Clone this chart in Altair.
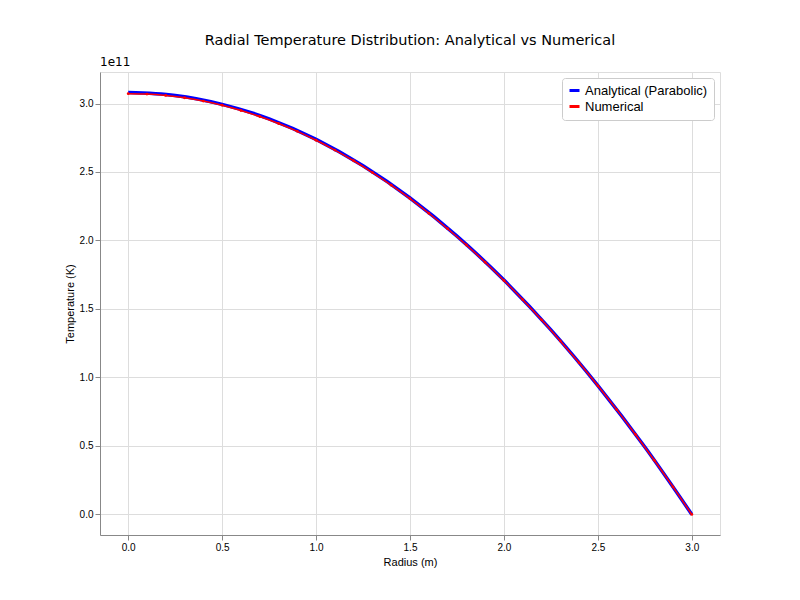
import altair as alt
import pandas as pd

r_ana = [0, 0.25, 0.5, 0.75, 1.0, 1.25, 1.5, 1.75, 2.0, 2.25, 2.5, 2.75, 3.0]
t_ana = [3.080, 3.059, 2.994, 2.888, 2.738, 2.545, 2.310, 2.032, 1.711, 1.348, 0.941, 0.492, 0.0]

r_num = [0, 0.1, 0.2, 0.3, 0.4, 0.5, 0.6, 0.7, 0.8, 0.9, 1.0, 1.1, 1.2, 1.3, 1.4, 1.5,
         1.6, 1.7, 1.8, 1.9, 2.0, 2.1, 2.2, 2.3, 2.4, 2.5, 2.6, 2.7, 2.8, 2.9, 3.0]
t_num = [3.072, 3.069, 3.059, 3.042, 3.018, 2.987, 2.949, 2.905, 2.854, 2.797, 2.732,
         2.660, 2.582, 2.496, 2.404, 2.305, 2.199, 2.086, 1.967, 1.841, 1.708, 1.568,
         1.421, 1.267, 1.107, 0.939, 0.765, 0.584, 0.396, 0.201, 0.0]

df = pd.concat([
    pd.DataFrame({"r": r_ana, "T": t_ana, "series": "Analytical (Parabolic)"}),
    pd.DataFrame({"r": r_num, "T": t_num, "series": "Numerical"}),
])

font = "DejaVu Sans"
ticks = [0, 0.5, 1, 1.5, 2, 2.5, 3]
x = alt.X("r:Q").scale(domain=[-0.15, 3.15], nice=False, zero=False).axis(
    values=ticks, format=".1f", title="Radius (m)", titleFontWeight="normal")
y = alt.Y("T:Q").scale(domain=[-0.15, 3.23], nice=False, zero=False).axis(
    values=ticks, format=".1f", title="Temperature (K)", titleFontWeight="normal")
color = alt.Color("series:N", title=None).scale(
    domain=["Analytical (Parabolic)", "Numerical"], range=["#0000ff", "#ff0000"]
).legend(orient="top-right", symbolType="stroke", strokeColor="#cccccc", fillColor="white",
         padding=6, cornerRadius=3, labelFontSize=13, symbolStrokeWidth=3, offset=6)

ana = alt.Chart(df).transform_filter(alt.datum.series == "Analytical (Parabolic)").mark_line(
    strokeWidth=3.5, interpolate="monotone").encode(x=x, y=y, color=color)
num = alt.Chart(df).transform_filter(alt.datum.series == "Numerical").mark_line(
    strokeWidth=1.5, interpolate="monotone",
    point=alt.OverlayMarkDef(size=8, filled=True, color="#ff0000")
).encode(x=x, y=y, color=color)
exp = alt.Chart(pd.DataFrame({"t": ["1e11"]})).mark_text(
    align="left", baseline="bottom", font=font, fontSize=12, dy=-3
).encode(x=alt.value(0), y=alt.value(0), text="t:N")

chart = (ana + num + exp).properties(
    width=620, height=463,
    title=alt.TitleParams("Radial Temperature Distribution: Analytical vs Numerical",
                          font=font, fontSize=14.5, fontWeight="normal", offset=8),
    padding={"left": 92, "top": 64, "right": 72, "bottom": 57},
    autosize=alt.AutoSizeParams(type="none"),
).configure_view(stroke="#000000", strokeWidth=1, strokeOpacity=1).configure_axis(
    grid=True, gridColor="#b0b0b0", gridOpacity=1, gridWidth=1, domainColor="black",
    tickColor="black", labelFont=font, titleFont=font, labelFontSize=12, titleFontSize=12,
    labelColor="black", titleColor="black", tickSize=4,
).configure_legend(labelFont=font).configure(background="white")

chart.save("out.html", embed_options={"renderer": "svg", "actions": False})
